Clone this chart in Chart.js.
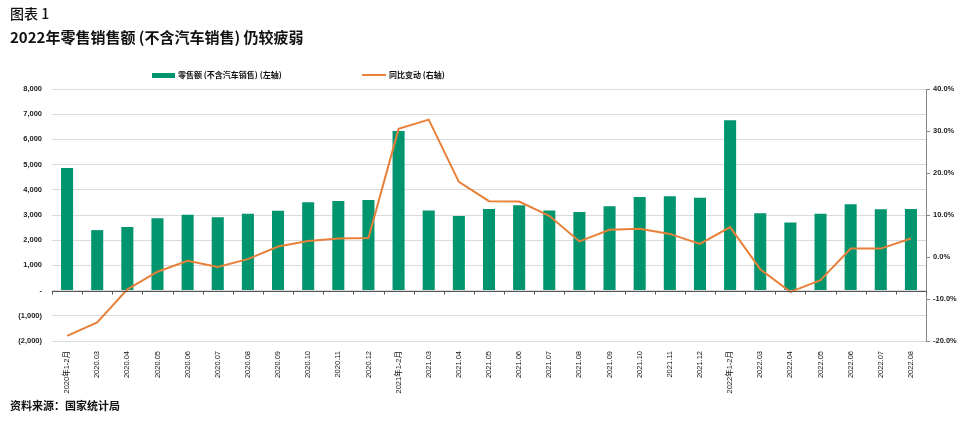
<!DOCTYPE html>
<html>
<head>
<meta charset="utf-8">
<script src="https://cdn.jsdelivr.net/npm/chart.js@4.4.0/dist/chart.umd.min.js"></script>
<style>
  body { margin: 0; background: #fff; width: 963px; height: 421px; overflow: hidden; position: relative;
         font-family: "Noto Sans CJK SC", "Noto Sans", sans-serif; color: #111; }
  #chartBox { position: absolute; left: 0; top: 0; }
  .txt { position: absolute; white-space: nowrap; z-index: 2; }
  #fig { left: 10px; top: 5px; font-size: 14px; font-weight: 500; line-height: 17px; }
  #title { left: 10px; top: 27px; font-size: 15px; font-weight: 600; line-height: 19px; }
  #source { left: 10px; top: 398px; font-size: 11px; font-weight: 700; line-height: 14px; }
  .lg { position: absolute; top: 69px; font-size: 8px; font-weight: 700; line-height: 12px; z-index: 2;
        display: flex; align-items: center; white-space: nowrap; }
  .sw { display: inline-block; margin-right: 3px; }
  .sw.bar { width: 23px; height: 5px; background: #00956f; }
  .sw.line { width: 24px; height: 2px; background: #e8803a; }
</style>
</head>
<body>
<div class="txt" id="fig">图表 1</div>
<div class="txt" id="title">2022年零售销售额 (不含汽车销售) 仍较疲弱</div>
<div class="lg" style="left:152px"><span class="sw bar"></span>零售额 (不含汽车销售) (左轴)</div>
<div class="lg" style="left:362px"><span class="sw line"></span>同比变动 (右轴)</div>
<div class="txt" id="source">资料来源：国家统计局</div>
<div id="chartBox"><canvas id="myChart" width="963" height="421"></canvas></div>

<script>
// months
var labels = ["2020年1-2月", "2020.03", "2020.04", "2020.05", "2020.06", "2020.07", "2020.08", "2020.09",
  "2020.10", "2020.11", "2020.12", "2021年1-2月", "2021.03", "2021.04", "2021.05", "2021.06", "2021.07",
  "2021.08", "2021.09", "2021.10", "2021.11", "2021.12", "2022年1-2月", "2022.03", "2022.04", "2022.05",
  "2022.06", "2022.07", "2022.08"];

// retail sales ex autos (left axis)
var salesValues = [4870, 2400, 2525, 2875, 3005, 2915, 3045, 3165, 3510, 3560, 3600, 6335, 3175, 2965,
  3240, 3385, 3175, 3120, 3350, 3715, 3745, 3680, 6760, 3070, 2700, 3045, 3430, 3230, 3240];

// yoy change % (right axis)
var yoyValues = [-18.8, -15.6, -7.7, -3.5, -0.9, -2.4, -0.5, 2.5, 3.8, 4.4, 4.5, 30.5, 32.7, 17.9,
  13.3, 13.2, 9.8, 3.7, 6.5, 6.7, 5.5, 3.1, 7.1, -2.9, -8.3, -5.5, 2.0, 2.0, 4.4];

var tickFont = { family: "'Liberation Sans', 'Noto Sans CJK SC', sans-serif", size: 7.5, weight: "bold" };

function fmtLeft(v) {
  if (v === 0) return "-";
  if (v < 0) return "(" + Math.abs(v).toLocaleString("en-US") + ")";
  return v.toLocaleString("en-US");
}

// zero line + little category ticks on it
var zeroAxis = {
  id: "zeroAxis",
  afterDatasetsDraw: function (chart) {
    var x = chart.scales.x, y = chart.scales.y, c = chart.ctx;
    var y0 = Math.round(y.getPixelForValue(0)) + 0.5;
    c.save();
    c.strokeStyle = "#555";
    c.lineWidth = 1;
    c.beginPath();
    c.moveTo(chart.chartArea.left, y0);
    c.lineTo(chart.chartArea.right, y0);
    for (var i = 0; i <= labels.length; i++) {
      var px = i < labels.length ? x.getPixelForValue(i) - x.width / labels.length / 2 : chart.chartArea.right;
      px = Math.round(px) + 0.5;
      c.moveTo(px, y0);
      c.lineTo(px, y0 + 3);
    }
    c.stroke();
    c.restore();
  }
};

var ctx = document.getElementById("myChart").getContext("2d");
var salesChart = new Chart(ctx, {
  type: "bar",
  data: {
    labels: labels,
    datasets: [
      {
        type: "line",
        label: "同比变动 (右轴)",
        data: yoyValues,
        yAxisID: "y1",
        borderColor: "#e8803a",
        borderWidth: 2,
        pointRadius: 0,
        tension: 0,
        order: 0,
      },
      {
        label: "零售额 (不含汽车销售) (左轴)",
        data: salesValues,
        yAxisID: "y",
        backgroundColor: "#00956f",
        barPercentage: 0.4,
        categoryPercentage: 1,
        order: 1,
      },
    ],
  },
  options: {
    responsive: false,
    animation: false,
    layout: { padding: { top: 89, left: 0, right: 0, bottom: 0 } },
    plugins: { legend: { display: false }, tooltip: { enabled: false } },
    scales: {
      x: {
        grid: { display: false },
        border: { display: false },
        ticks: { autoSkip: false, minRotation: 90, maxRotation: 90, padding: 2, color: "#111",
                 font: { family: "'Liberation Sans', 'Noto Sans CJK SC', sans-serif", size: 7.5 } },
        afterFit: function (s) { s.height = 80; },
      },
      y: {
        position: "left",
        min: -2000,
        max: 8000,
        ticks: { stepSize: 1000, callback: fmtLeft, padding: 10, color: "#222", font: tickFont },
        grid: { color: "#dadada", drawTicks: false },
        border: { display: false },
        afterFit: function (s) { s.width = 52; },
      },
      y1: {
        position: "right",
        min: -20,
        max: 40,
        ticks: { stepSize: 10, callback: function (v) { return v.toFixed(1) + "%"; }, padding: 3, color: "#222", font: tickFont },
        grid: { drawOnChartArea: false, tickLength: 4, color: "#888" },
        border: { display: true, color: "#888" },
        afterFit: function (s) { s.width = 37; },
      },
    },
  },
  plugins: [zeroAxis],
});
</script>
</body>
</html>
